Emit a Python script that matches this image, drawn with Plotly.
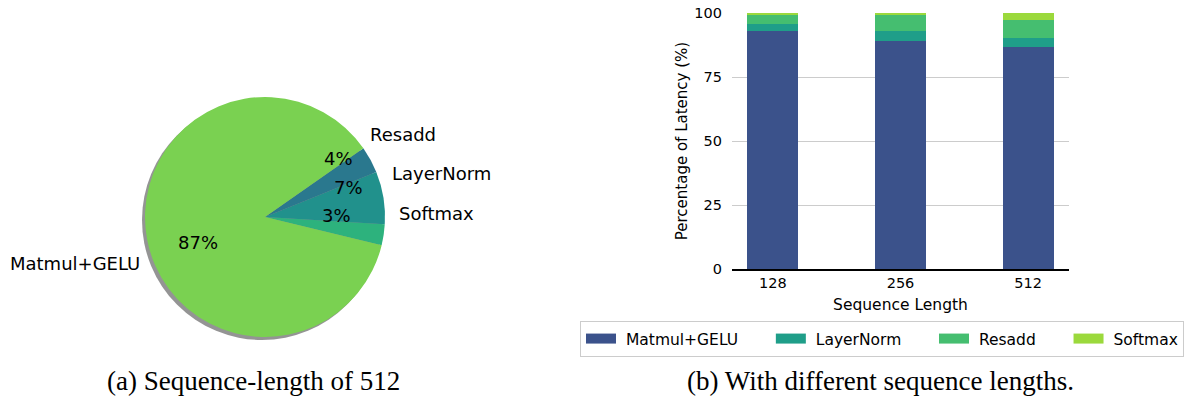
import numpy as np
import plotly.graph_objects as go

# ---------------- data ----------------
pie_labels = ["Softmax", "LayerNorm", "Resadd", "Matmul+GELU"]
pie_values = [2.8, 7.1, 3.6, 86.7]
pie_colors = ["#2db27d", "#21918c", "#2a788e", "#7ad151"]
pct_dist = [0.6, 0.74, 0.78, 0.6]   # radial placement of percentage labels (style)

seq_lengths = ["128", "256", "512"]
matmul_gelu = [93.0, 89.0, 86.7]
layernorm = [2.7, 3.9, 3.5]
resadd = [3.5, 6.3, 7.1]
softmax = [0.8, 0.8, 2.7]
bar_names = ["Matmul+GELU", "LayerNorm", "Resadd", "Softmax"]
bar_colors = ["#3b528b", "#1f9e89", "#45be70", "#9bd93c"]
y_ticks = [0, 25, 50, 75, 100]

W, H = 1188, 398
FONT = "DejaVu Sans"

# pie geometry (pixels)
cx, cy, r = 265, 217, 120
start_deg = -3.5
shadow_dx, shadow_dy = -3, 3


def px2paper(x, y):
    return x / W, 1 - y / H


def dom(x0, x1, y0, y1):
    return dict(x=[x0 / W, x1 / W], y=[1 - y1 / H, 1 - y0 / H])


fig = go.Figure()

# shadow
fig.add_trace(go.Pie(
    values=[1], marker=dict(colors=["rgba(0,0,0,0.42)"], line=dict(width=0)),
    textinfo="none", hoverinfo="skip", showlegend=False, sort=False,
    domain=dom(cx - r + shadow_dx, cx + r + shadow_dx, cy - r + shadow_dy, cy + r + shadow_dy),
))
fig.add_trace(go.Pie(
    labels=pie_labels, values=pie_values, marker=dict(colors=pie_colors, line=dict(width=0)),
    textinfo="none", sort=False, direction="counterclockwise", rotation=90 - start_deg,
    showlegend=False, domain=dom(cx - r, cx + r, cy - r, cy + r),
))

# pie labels and percentages (matplotlib-like placement)
vals = np.array(pie_values)
fr = vals / vals.sum()
ends = start_deg + np.cumsum(fr) * 360
starts = ends - fr * 360
mids = np.deg2rad((starts + ends) / 2)
for lab, f, th, pd in zip(pie_labels, fr, mids, pct_dist):
    lx, ly = px2paper(cx + 1.1 * r * np.cos(th), cy - 1.1 * r * np.sin(th))
    fig.add_annotation(x=lx, y=ly, xref="paper", yref="paper", text=lab, showarrow=False,
                       xanchor="left" if np.cos(th) > 0 else "right", yanchor="middle",
                       font=dict(family=FONT, size=18, color="black"))
    tx, ty = px2paper(cx + pd * r * np.cos(th), cy - pd * r * np.sin(th))
    fig.add_annotation(x=tx, y=ty, xref="paper", yref="paper", text=f"{f*100:.0f}%", showarrow=False,
                       xanchor="center", yanchor="middle",
                       font=dict(family=FONT, size=18, color="black"))

# stacked bars
for name, vals_b, col in zip(bar_names, [matmul_gelu, layernorm, resadd, softmax], bar_colors):
    fig.add_trace(go.Bar(x=seq_lengths, y=vals_b, name=name, marker=dict(color=col, line=dict(width=0)),
                         width=0.4, xaxis="x", yaxis="y", showlegend=False))

# legend entries (wide rectangular swatches like matplotlib)
lead = "\u00a0"
trail = "\u00a0" * 5 + "\u2009"
for i, (name, col) in enumerate(zip(bar_names, bar_colors)):
    label = lead + name + (trail if i < len(bar_names) - 1 else "")
    fig.add_trace(go.Scatter(x=[None], y=[None], mode="lines", name=label,
                             line=dict(color=col, width=14), xaxis="x", yaxis="y",
                             hoverinfo="skip"))

fig.update_layout(
    width=W, height=H, margin=dict(l=0, r=0, t=0, b=0, autoexpand=False),
    paper_bgcolor="white", plot_bgcolor="white",
    barmode="stack", bargap=0,
    font=dict(family=FONT, size=14, color="black"),
    xaxis=dict(domain=[732 / W, 1069 / W], anchor="y", type="category", range=[-0.32, 2.32],
               showline=True, linecolor="black", linewidth=1.5, showgrid=False, ticks="",
               tickfont=dict(size=14.5), ticklabelstandoff=0, automargin=False,
               title=dict(text="Sequence Length", font=dict(size=15.5), standoff=9)),
    yaxis=dict(domain=[1 - 269 / H, 1 - 13 / H], anchor="x", range=[0, 100], tickvals=y_ticks,
               showline=False, showgrid=True, gridcolor="#cccccc", gridwidth=1, zeroline=False,
               ticks="", tickfont=dict(size=14.5), ticklabelstandoff=9, automargin=False,
               title=dict(text="Percentage of Latency (%)", font=dict(size=15), standoff=3)),
    legend=dict(orientation="h", x=580 / W, y=1 - 321 / H, xanchor="left", yanchor="top",
                bordercolor="#cccccc", borderwidth=1, bgcolor="white",
                font=dict(size=15.5), itemwidth=30, traceorder="normal"),
)

fig.add_annotation(x=253 / W, y=1 - 381 / H, xref="paper", yref="paper", showarrow=False,
                   text="(a) Sequence-length of 512", xanchor="center", yanchor="middle",
                   font=dict(family="Liberation Serif", size=27, color="black"))
fig.add_annotation(x=880 / W, y=1 - 381 / H, xref="paper", yref="paper", showarrow=False,
                   text="(b) With different sequence lengths.", xanchor="center", yanchor="middle",
                   font=dict(family="Liberation Serif", size=27, color="black"))

fig.write_html("out.html", config={"displayModeBar": False},
               post_script="document.body.style.margin='0';")
